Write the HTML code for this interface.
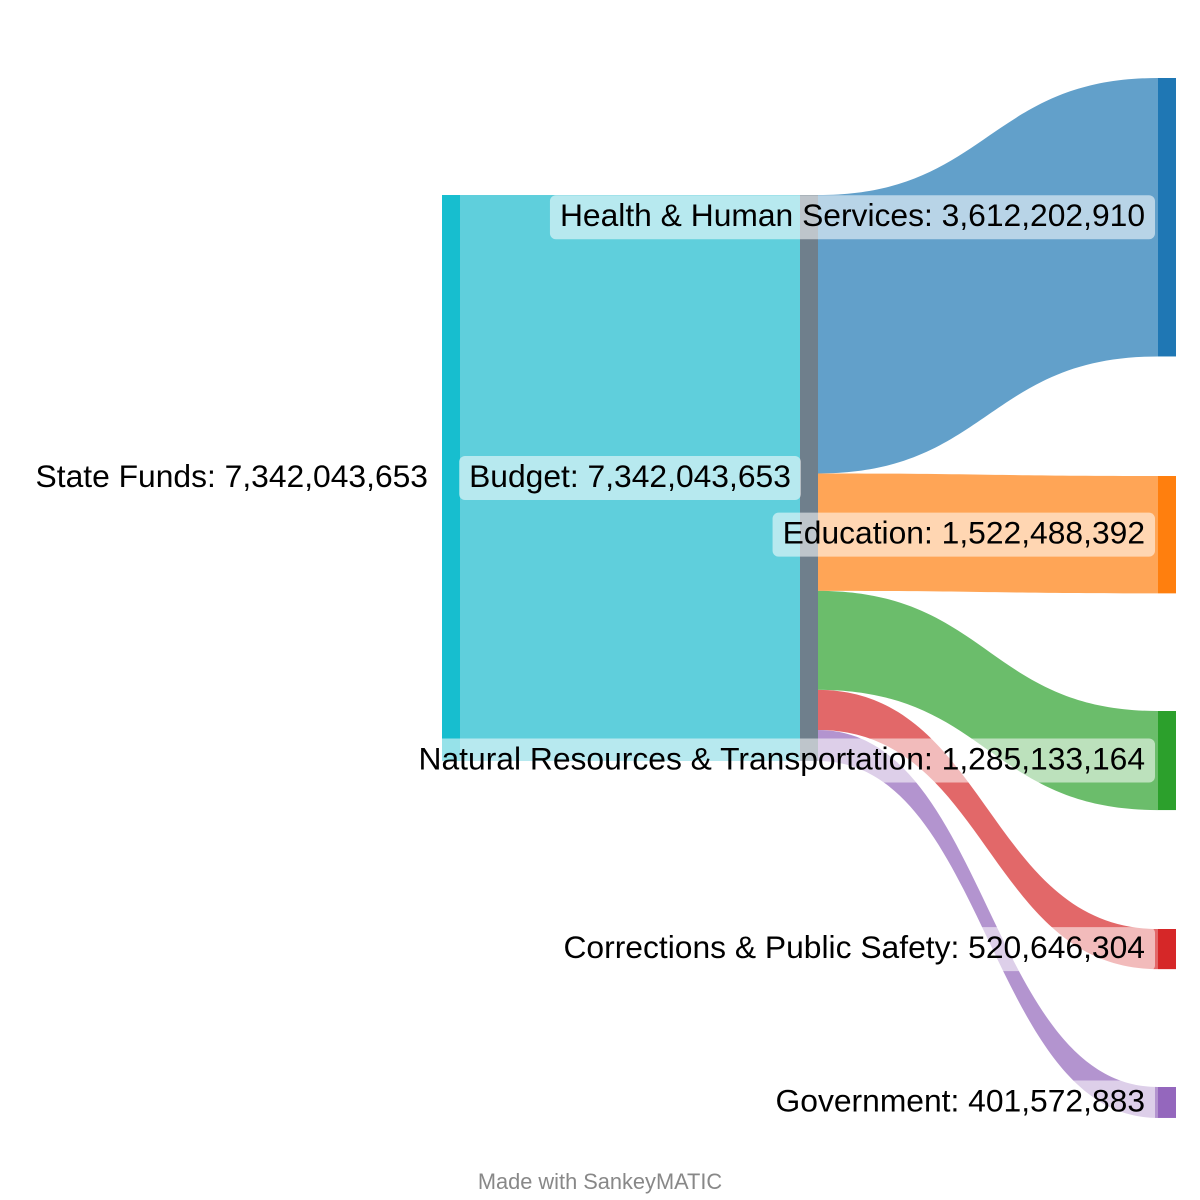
<!DOCTYPE html>
<html><head><meta charset="utf-8"><style>
html,body{margin:0;padding:0;background:#fff}
svg{display:block}
text{font-family:"Liberation Sans",sans-serif}
</style></head><body>
<svg id="chart" width="1200" height="1200" viewBox="0 0 1200 1200" xmlns="http://www.w3.org/2000/svg">
<g id="flows"></g>
<g id="nodes"></g>
<g id="labels"></g>
<text x="600" y="1189" text-anchor="middle" font-size="21.8" fill="#888">Made with SankeyMATIC</text>
</svg>
<script>
const sourceName = "State Funds";
const hubName = "Budget";
const categories = ["Health & Human Services","Education","Natural Resources & Transportation","Corrections & Public Safety","Government"];
const values = [3612202910,1522488392,1285133164,520646304,401572883];

const NS="http://www.w3.org/2000/svg";
const flowColors=["#62a0ca","#ffa556","#6bbd6b","#e26869","#b394cf"];
const nodeColors=["#1f77b4","#ff7f0e","#2ca02c","#d62728","#9467bd"];
const targetTops=[78,476,711,929,1087];
const total=values.reduce((a,b)=>a+b,0);
const top0=195, span=566;
const k=span/total;
const xSrc=442, xHub=800, xT=1158, nw=18;
const fmt=v=>v.toLocaleString("en-US");
const flows=document.getElementById("flows"),nodes=document.getElementById("nodes"),labels=document.getElementById("labels");
function mk(tag,attrs,parent){const e=document.createElementNS(NS,tag);for(const a in attrs)e.setAttribute(a,attrs[a]);parent.appendChild(e);return e;}

const H=total*k;
let r=mk("rect",{x:xSrc+nw,y:top0,width:xHub-xSrc-nw,height:H,fill:"#5fcfdc"},flows);



let y=top0;
values.forEach((v,i)=>{
  const h=v*k, x0=xHub+nw, x1=xT, mx=(x0+x1)/2, t=targetTops[i];
  const d=`M${x0},${y}C${mx},${y} ${mx},${t} ${x1},${t}L${x1},${t+h}C${mx},${t+h} ${mx},${y+h} ${x0},${y+h}Z`;
  const p=mk("path",{d:d,fill:flowColors[i]},flows);
  
  
  const n=mk("rect",{x:xT,y:t,width:nw,height:h,fill:nodeColors[i]},nodes);
  
  
  y+=h;
});
let ns=mk("rect",{x:xSrc,y:top0,width:nw,height:H,fill:"#17becf"},nodes);


let nh=mk("rect",{x:xHub,y:top0,width:nw,height:H,fill:"#6f7f8c"},nodes);



function label(txt,x,cy,anchor,name,box){
  const g=mk("g",{},labels);
  
  
  const t=mk("text",{x:x,y:cy+9,"font-size":31.8,fill:"#000","text-anchor":anchor},g);
  t.textContent=txt;
  if(box){
    const b=t.getBBox();
    const bg=mk("rect",{x:b.x-10,y:cy-22,width:b.width+20,height:44,rx:6,fill:"#fff","fill-opacity":0.55},g);
    g.insertBefore(bg,t);
  }
}
const mid=top0+H/2;
label(sourceName+": "+fmt(total),428,mid,"end","label-state-funds",false);
label(hubName+": "+fmt(total),(xSrc+nw+xHub)/2,mid,"middle","label-budget",true);
values.forEach((v,i)=>{
  const cy=targetTops[i]+v*k/2;
  label(categories[i]+": "+fmt(v),1145,cy,"end","label-"+categories[i].toLowerCase().replace(/[^a-z]+/g,'-'),true);
});
</script>
</body></html>
